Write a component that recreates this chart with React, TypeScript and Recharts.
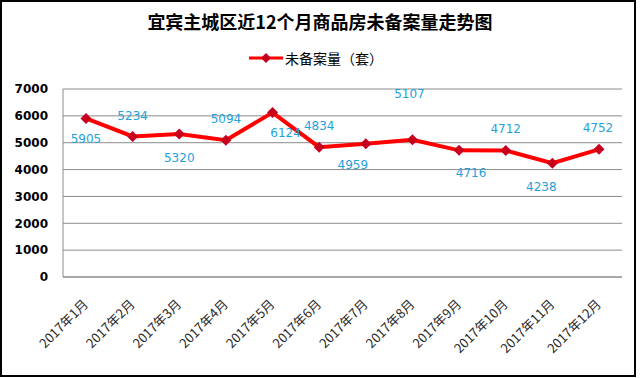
import React from "react";
import { CartesianGrid, Legend, Line, LineChart, XAxis, YAxis } from "recharts";

const months = [
    "2017年1月", "2017年2月", "2017年3月", "2017年4月", "2017年5月", "2017年6月",
    "2017年7月", "2017年8月", "2017年9月", "2017年10月", "2017年11月", "2017年12月",
];
const unsold = [5905, 5234, 5320, 5094, 6124, 4834, 4959, 5107, 4716, 4712, 4238, 4752];
const yTicks = [0, 1000, 2000, 3000, 4000, 5000, 6000, 7000];
const seriesName = "未备案量（套）";
const title = "宜宾主城区近12个月商品房未备案量走势图";

// where each value label sits relative to its point (label centre)
const labelShift = [
    [0, 21], [0, -20], [0, 24], [0, -21], [13, 20], [0, -21],
    [-13, 21], [-3, -46], [12, 23], [0, -21], [-11, 24], [-1, -21],
];

const chartData = months.map((m, i) => ({ month: m, unsold: unsold[i] }));

const lineColor = "#ff0000";
const markerColor = "#c8001e";
const labelColor = "#1ea2dc";
const gridColor = "#8c8c8c";

const Diamond = (props: any) => {
    const { cx, cy } = props;
    if (cx == null || cy == null) return null;
    const r = 5.5;
    return <polygon points={`${cx},${cy - r} ${cx + r},${cy} ${cx},${cy + r} ${cx - r},${cy}`} fill={markerColor} />;
};

const ValueLabel = (props: any) => {
    const { x, y, value, index } = props;
    const [dx, dy] = labelShift[index] || [0, -20];
    return (
        <text x={x + dx} y={y + dy + 4} textAnchor="middle" fill={labelColor}
              style={{ fontFamily: "DejaVu Sans", fontSize: 12 }}>
            {value}
        </text>
    );
};

const MonthTick = (props: any) => {
    const { x, y, payload } = props;
    return (
        <g transform={`translate(${x + 3},${y + 20})`}>
            <text x={0} y={0} textAnchor="end" transform="rotate(-45)" fill="#2a2a2a"
                  style={{ fontFamily: "'Noto Sans CJK SC'", fontSize: 13 }}>
                {payload.value}
            </text>
        </g>
    );
};

const LegendBox = (props: any) => {
    const item = props.payload && props.payload[0];
    return (
        <div style={{ display: "flex", alignItems: "center", justifyContent: "center",
                      fontFamily: "'Noto Sans CJK SC'", fontSize: 14, color: "#000" }}>
            <svg width={34} height={12} style={{ marginRight: 2 }}>
                <line x1={0} y1={6} x2={34} y2={6} stroke={lineColor} strokeWidth={3} />
                <polygon points="17,1 22,6 17,11 12,6" fill={markerColor} />
            </svg>
            <span>{item ? item.value : seriesName}</span>
        </div>
    );
};

export default function App() {
    return (
        <div style={{ position: "absolute", left: 0, top: 0, width: 640, height: 378, background: "#fff" }}>
            <div style={{ position: "absolute", left: 0, top: 0, width: 636, height: 377,
                          border: "2px solid #000", boxSizing: "border-box" }} />
            <div style={{ position: "absolute", left: 0, top: 10, width: 640, textAlign: "center",
                          fontFamily: "'Noto Sans CJK SC'", fontWeight: "bold", fontSize: 18, lineHeight: "22px" }}>
                {title}
            </div>
            <LineChart width={640} height={378} data={chartData}
                       margin={{ top: 89, right: 18, left: 8, bottom: 21 }}>
                <CartesianGrid vertical={false} stroke={gridColor} />
                <XAxis dataKey="month" interval={0} tickLine={false} height={80} padding={{ left: 23, right: 23 }}
                       axisLine={{ stroke: gridColor }} tick={<MonthTick />} />
                <YAxis width={55} domain={[0, 7000]} ticks={yTicks} tickLine={false} tickSize={0}
                       tickMargin={15} axisLine={{ stroke: gridColor }}
                       tick={{ fill: "#000", fontFamily: "DejaVu Sans", fontWeight: "bold", fontSize: 12 }} />
                <Legend verticalAlign="middle" content={<LegendBox />}
                        wrapperStyle={{ top: 48, left: -4, width: 640 }} />
                <Line type="linear" dataKey="unsold" name={seriesName} stroke={lineColor} strokeWidth={4}
                      dot={<Diamond />} activeDot={false} label={<ValueLabel />} isAnimationActive={false} />
            </LineChart>
        </div>
    );
}
